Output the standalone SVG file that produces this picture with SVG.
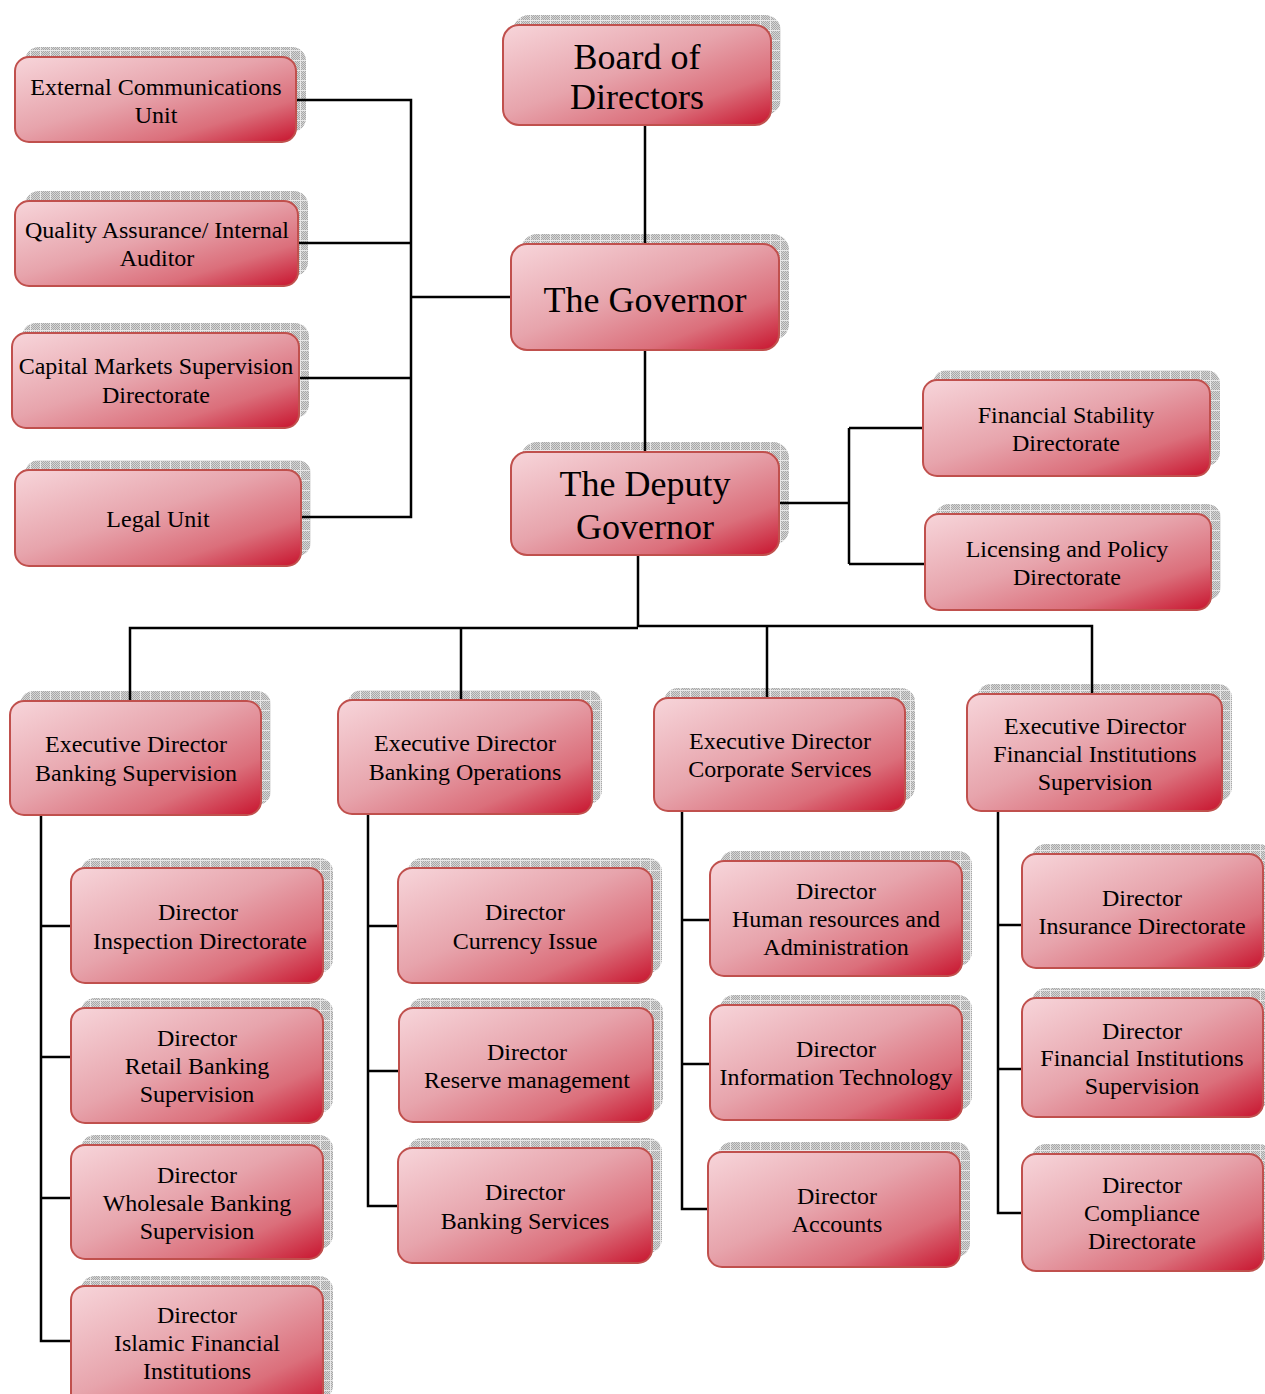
<svg xmlns="http://www.w3.org/2000/svg" width="1265" height="1394" viewBox="0 0 1265 1394">
<defs>
<pattern id="chk" width="2" height="2" patternUnits="userSpaceOnUse">
<rect width="2" height="2" fill="#d6d6d6"/>
<rect width="1" height="1" fill="#a8a8a8"/>
<rect x="1" y="1" width="1" height="1" fill="#a8a8a8"/>
</pattern>
<pattern id="grid" width="10" height="10" patternUnits="userSpaceOnUse">
<rect width="10" height="10" fill="url(#chk)"/>
<path d="M0 0.5H10M0.5 0V10" stroke="#e8e8e8" stroke-width="1" fill="none"/>
</pattern>
<linearGradient id="red" x1="0" y1="0" x2="1" y2="1">
<stop offset="0" stop-color="#f7d5da"/>
<stop offset="0.45" stop-color="#e7a4ac"/>
<stop offset="0.75" stop-color="#db6f7b"/>
<stop offset="1" stop-color="#c8142e"/>
</linearGradient>
</defs>
<style>
.sh{fill:url(#grid);}
.bx{fill:url(#red);stroke:#c0504d;stroke-width:2;}
text{font-family:"Liberation Serif","Times New Roman",serif;fill:#000;text-anchor:middle;}
.s{font-size:24px;}
.b{font-size:36px;}
.c{stroke:#000;stroke-width:2.5;fill:none;}
</style>

<g id="board">
<rect class="sh" x="513" y="15" width="268" height="100" rx="16"/>
<rect class="bx" x="503" y="25" width="268" height="100" rx="16"/>
<text class="b" x="637" y="69">Board of</text>
<text class="b" x="637" y="109">Directors</text>
</g>
<g id="governor">
<rect class="sh" x="521" y="234" width="268" height="106" rx="16"/>
<rect class="bx" x="511" y="244" width="268" height="106" rx="16"/>
<text class="b" x="645" y="312">The Governor</text>
</g>
<g id="deputy">
<rect class="sh" x="521" y="442" width="268" height="103" rx="16"/>
<rect class="bx" x="511" y="452" width="268" height="103" rx="16"/>
<text class="b" x="645" y="496">The Deputy</text>
<text class="b" x="645" y="539">Governor</text>
</g>

<g id="ecu">
<rect class="sh" x="25" y="47" width="281" height="85" rx="14"/>
<rect class="bx" x="15" y="57" width="281" height="85" rx="14"/>
<text class="s" x="156" y="95">External Communications</text>
<text class="s" x="156" y="123">Unit</text>
</g>
<g id="qa">
<rect class="sh" x="25" y="191" width="283" height="85" rx="14"/>
<rect class="bx" x="15" y="201" width="283" height="85" rx="14"/>
<text class="s" x="157" y="238">Quality Assurance/ Internal</text>
<text class="s" x="157" y="266">Auditor</text>
</g>
<g id="cms">
<rect class="sh" x="22" y="323" width="287" height="95" rx="14"/>
<rect class="bx" x="12" y="333" width="287" height="95" rx="14"/>
<text class="s" x="156" y="374">Capital Markets Supervision</text>
<text class="s" x="156" y="403">Directorate</text>
</g>
<g id="legal">
<rect class="sh" x="25" y="460" width="286" height="96" rx="14"/>
<rect class="bx" x="15" y="470" width="286" height="96" rx="14"/>
<text class="s" x="158" y="527">Legal Unit</text>
</g>

<g id="fsd">
<rect class="sh" x="933" y="370" width="287" height="96" rx="14"/>
<rect class="bx" x="923" y="380" width="287" height="96" rx="14"/>
<text class="s" x="1066" y="423">Financial Stability</text>
<text class="s" x="1066" y="451">Directorate</text>
</g>
<g id="lpd">
<rect class="sh" x="935" y="504" width="286" height="96" rx="14"/>
<rect class="bx" x="925" y="514" width="286" height="96" rx="14"/>
<text class="s" x="1067" y="557">Licensing and Policy</text>
<text class="s" x="1067" y="585">Directorate</text>
</g>

<g id="ed-bs">
<rect class="sh" x="20" y="691" width="251" height="114" rx="14"/>
<rect class="bx" x="10" y="701" width="251" height="114" rx="14"/>
<text class="s" x="136" y="752">Executive Director</text>
<text class="s" x="136" y="781">Banking Supervision</text>
</g>
<g id="ed-bo">
<rect class="sh" x="348" y="690" width="254" height="114" rx="14"/>
<rect class="bx" x="338" y="700" width="254" height="114" rx="14"/>
<text class="s" x="465" y="751">Executive Director</text>
<text class="s" x="465" y="780">Banking Operations</text>
</g>
<g id="ed-cs">
<rect class="sh" x="664" y="688" width="251" height="113" rx="14"/>
<rect class="bx" x="654" y="698" width="251" height="113" rx="14"/>
<text class="s" x="780" y="749">Executive Director</text>
<text class="s" x="780" y="777">Corporate Services</text>
</g>
<g id="ed-fis">
<rect class="sh" x="977" y="684" width="255" height="117" rx="14"/>
<rect class="bx" x="967" y="694" width="255" height="117" rx="14"/>
<text class="s" x="1095" y="734">Executive Director</text>
<text class="s" x="1095" y="762">Financial Institutions</text>
<text class="s" x="1095" y="790">Supervision</text>
</g>

<g id="d-insp">
<rect class="sh" x="81" y="858" width="252" height="115" rx="14"/>
<rect class="bx" x="71" y="868" width="252" height="115" rx="14"/>
<text class="s" x="198" y="920">Director</text>
<text class="s" x="200" y="949">Inspection Directorate</text>
</g>
<g id="d-retail">
<rect class="sh" x="81" y="998" width="252" height="115" rx="14"/>
<rect class="bx" x="71" y="1008" width="252" height="115" rx="14"/>
<text class="s" x="197" y="1046">Director</text>
<text class="s" x="197" y="1074">Retail Banking</text>
<text class="s" x="197" y="1102">Supervision</text>
</g>
<g id="d-wholesale">
<rect class="sh" x="81" y="1135" width="252" height="114" rx="14"/>
<rect class="bx" x="71" y="1145" width="252" height="114" rx="14"/>
<text class="s" x="197" y="1183">Director</text>
<text class="s" x="197" y="1211">Wholesale Banking</text>
<text class="s" x="197" y="1239">Supervision</text>
</g>
<g id="d-islamic">
<rect class="sh" x="81" y="1276" width="252" height="124" rx="14"/>
<rect class="bx" x="71" y="1286" width="252" height="124" rx="14"/>
<text class="s" x="197" y="1323">Director</text>
<text class="s" x="197" y="1351">Islamic Financial</text>
<text class="s" x="197" y="1379">Institutions</text>
</g>

<g id="d-currency">
<rect class="sh" x="408" y="858" width="254" height="115" rx="14"/>
<rect class="bx" x="398" y="868" width="254" height="115" rx="14"/>
<text class="s" x="525" y="920">Director</text>
<text class="s" x="525" y="949">Currency Issue</text>
</g>
<g id="d-reserve">
<rect class="sh" x="409" y="998" width="254" height="114" rx="14"/>
<rect class="bx" x="399" y="1008" width="254" height="114" rx="14"/>
<text class="s" x="527" y="1060">Director</text>
<text class="s" x="527" y="1088">Reserve management</text>
</g>
<g id="d-banksvc">
<rect class="sh" x="408" y="1138" width="254" height="115" rx="14"/>
<rect class="bx" x="398" y="1148" width="254" height="115" rx="14"/>
<text class="s" x="525" y="1200">Director</text>
<text class="s" x="525" y="1229">Banking Services</text>
</g>

<g id="d-hr">
<rect class="sh" x="720" y="851" width="252" height="115" rx="14"/>
<rect class="bx" x="710" y="861" width="252" height="115" rx="14"/>
<text class="s" x="836" y="899">Director</text>
<text class="s" x="836" y="927">Human resources and</text>
<text class="s" x="836" y="955">Administration</text>
</g>
<g id="d-it">
<rect class="sh" x="720" y="995" width="252" height="115" rx="14"/>
<rect class="bx" x="710" y="1005" width="252" height="115" rx="14"/>
<text class="s" x="836" y="1057">Director</text>
<text class="s" x="836" y="1085">Information Technology</text>
</g>
<g id="d-accounts">
<rect class="sh" x="718" y="1142" width="252" height="115" rx="14"/>
<rect class="bx" x="708" y="1152" width="252" height="115" rx="14"/>
<text class="s" x="837" y="1204">Director</text>
<text class="s" x="837" y="1232">Accounts</text>
</g>

<g id="d-insurance">
<rect class="sh" x="1032" y="844" width="241" height="114" rx="14"/>
<rect class="bx" x="1022" y="854" width="241" height="114" rx="14"/>
<text class="s" x="1142" y="906">Director</text>
<text class="s" x="1142" y="934">Insurance Directorate</text>
</g>
<g id="d-fis">
<rect class="sh" x="1032" y="988" width="241" height="119" rx="14"/>
<rect class="bx" x="1022" y="998" width="241" height="119" rx="14"/>
<text class="s" x="1142" y="1039">Director</text>
<text class="s" x="1142" y="1066">Financial Institutions</text>
<text class="s" x="1142" y="1094">Supervision</text>
</g>
<g id="d-compliance">
<rect class="sh" x="1032" y="1144" width="241" height="117" rx="14"/>
<rect class="bx" x="1022" y="1154" width="241" height="117" rx="14"/>
<text class="s" x="1142" y="1193">Director</text>
<text class="s" x="1142" y="1221">Compliance</text>
<text class="s" x="1142" y="1249">Directorate</text>
</g>

<g id="connectors">
<path class="c" d="M645 126V243M645 351V451"/>
<path class="c" d="M297 100H411V517H302M299 243H411M411 297H510M300 378H411"/>
<path class="c" d="M780 503H849M849 428V564M849 428H922M849 564H924"/>
<path class="c" d="M638 556V627M130 700V628H638M638 626H1092V693M461 628V699M767 626V697"/>
<path class="c" d="M41 816V1341H70M41 926H70M41 1057H70M41 1198H70"/>
<path class="c" d="M368 815V1206H397M368 926H397M368 1071H398"/>
<path class="c" d="M682 812V1209H707M682 920H709M682 1064H709"/>
<path class="c" d="M998 812V1213H1021M998 925H1021M998 1069H1021"/>
</g>
</svg>
